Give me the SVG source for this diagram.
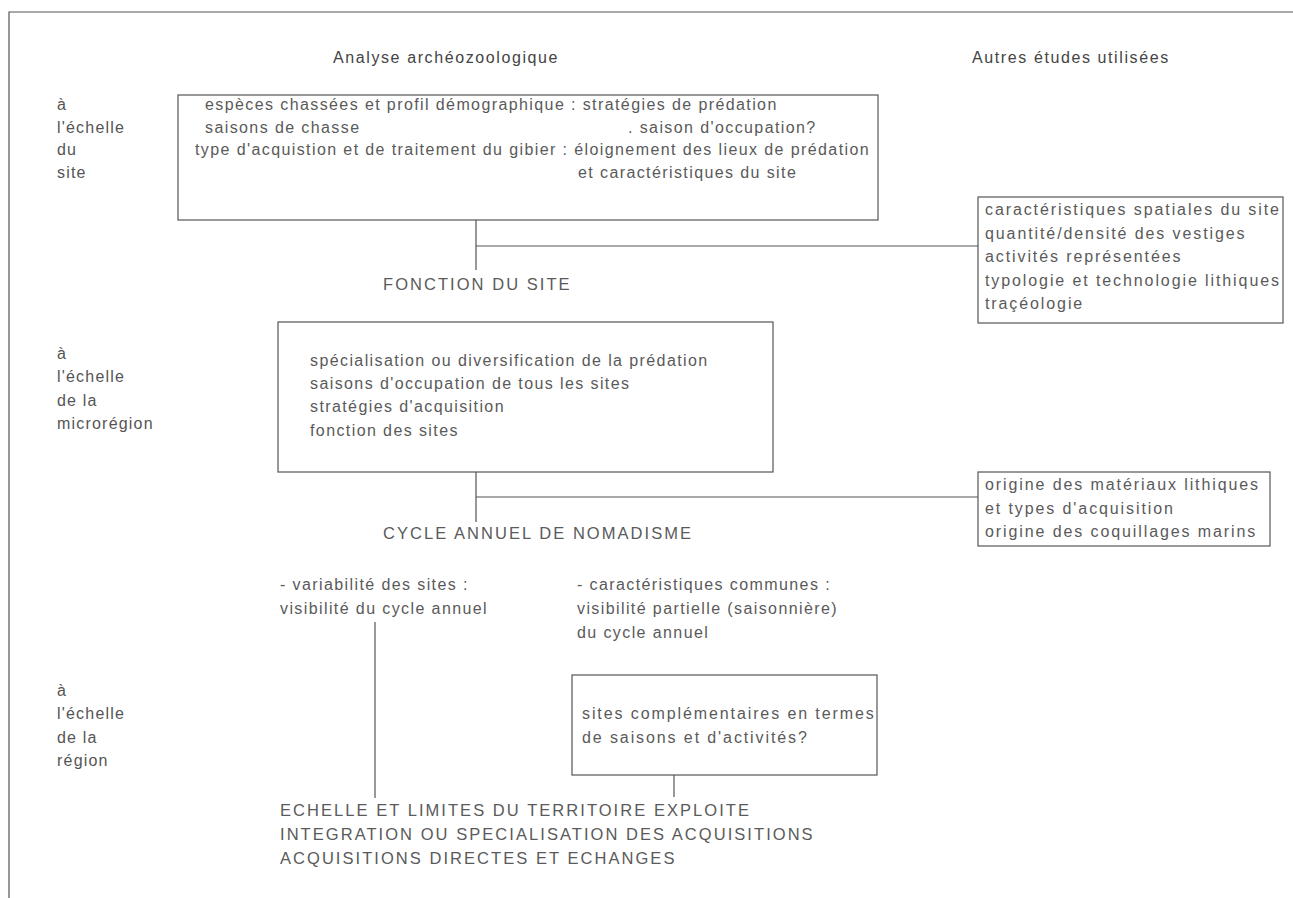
<svg xmlns="http://www.w3.org/2000/svg" width="1293" height="898" viewBox="0 0 1293 898">
<style>
text{font-family:"Liberation Sans",Arial,sans-serif;font-size:16px;fill:#5a5a5a;letter-spacing:1.4px}
.h{fill:#444;letter-spacing:1.6px}
.lab{fill:#555;letter-spacing:1.2px}
.up{font-size:16.5px;letter-spacing:2.05px}
.w{letter-spacing:1.9px}
.box{fill:none;stroke:#555;stroke-width:1.2}
.ln{fill:none;stroke:#555;stroke-width:1.2}
</style>
<rect width="1293" height="898" fill="#fff"/>
<g id="frame"><path class="ln" d="M9,898 V12 H1293"/></g>
<g id="headers">
<text class="h" x="333" y="63">Analyse archéozoologique</text>
<text class="h" x="972" y="63">Autres études utilisées</text>
</g>
<g id="scale-labels">
<text class="lab" x="57" y="110">à</text>
<text class="lab" x="57" y="133">l'échelle</text>
<text class="lab" x="57" y="155">du</text>
<text class="lab" x="57" y="178">site</text>
<text class="lab" x="57" y="359">à</text>
<text class="lab" x="57" y="382">l'échelle</text>
<text class="lab" x="57" y="406">de la</text>
<text class="lab" x="57" y="429">microrégion</text>
<text class="lab" x="57" y="696">à</text>
<text class="lab" x="57" y="719">l'échelle</text>
<text class="lab" x="57" y="743">de la</text>
<text class="lab" x="57" y="766">région</text>
</g>
<g id="connectors">
<path class="ln" d="M476,220 V270 M476,246 H978"/>
<path class="ln" d="M476,472 V522 M476,497 H978"/>
<path class="ln" d="M375,622 V798"/>
<path class="ln" d="M674,775 V797"/>
</g>
<g id="node-site">
<rect class="box" x="178" y="95" width="700" height="125"/>
<text x="205" y="110">espèces chassées et profil démographique : stratégies de prédation</text>
<text x="205" y="133">saisons de chasse</text>
<text x="628" y="133">. saison d'occupation?</text>
<text x="195" y="155">type d'acquistion et de traitement du gibier : éloignement des lieux de prédation</text>
<text x="578" y="178">et caractéristiques du site</text>
</g>
<g id="node-other-site">
<rect class="box" x="978" y="197" width="305" height="126"/>
<text class="w" x="985" y="215">caractéristiques spatiales du site</text>
<text class="w" x="985" y="239">quantité/densité des vestiges</text>
<text class="w" x="985" y="262">activités représentées</text>
<text class="w" x="985" y="286">typologie et technologie lithiques</text>
<text class="w" x="985" y="309">traçéologie</text>
</g>
<g id="node-fonction"><text class="up" x="383" y="290">FONCTION DU SITE</text></g>
<g id="node-micro">
<rect class="box" x="278" y="322" width="495" height="150"/>
<text x="310" y="366">spécialisation ou diversification de la prédation</text>
<text x="310" y="389">saisons d'occupation de tous les sites</text>
<text x="310" y="412">stratégies d'acquisition</text>
<text x="310" y="436">fonction des sites</text>
</g>
<g id="node-other-micro">
<rect class="box" x="978" y="472" width="292" height="74"/>
<text class="w" x="985" y="490">origine des matériaux lithiques</text>
<text class="w" x="985" y="514">et types d'acquisition</text>
<text class="w" x="985" y="537">origine des coquillages marins</text>
</g>
<g id="node-cycle"><text class="up" x="383" y="539">CYCLE ANNUEL DE NOMADISME</text></g>
<g id="node-variabilite">
<text x="280" y="590">- variabilité des sites :</text>
<text x="280" y="614">visibilité du cycle annuel</text>
</g>
<g id="node-communes">
<text x="577" y="590">- caractéristiques communes :</text>
<text x="577" y="614">visibilité partielle (saisonnière)</text>
<text x="577" y="638">du cycle annuel</text>
</g>
<g id="node-complementaires">
<rect class="box" x="572" y="675" width="305" height="100"/>
<text class="w" x="582" y="719">sites complémentaires en termes</text>
<text class="w" x="582" y="743">de saisons et d'activités?</text>
</g>
<g id="node-territoire">
<text class="up" x="280" y="816">ECHELLE ET LIMITES DU TERRITOIRE EXPLOITE</text>
<text class="up" x="280" y="840">INTEGRATION OU SPECIALISATION DES ACQUISITIONS</text>
<text class="up" x="280" y="864">ACQUISITIONS DIRECTES ET ECHANGES</text>
</g>
</svg>
